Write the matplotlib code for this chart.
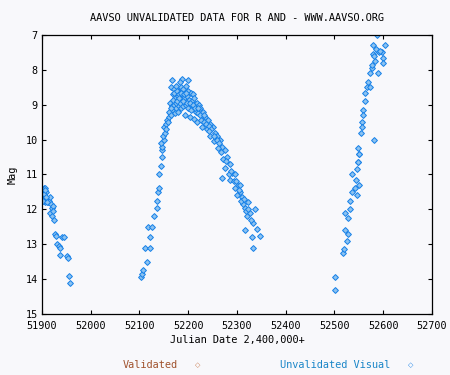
import matplotlib
matplotlib.use('Agg')
import matplotlib.pyplot as plt

## Data (Julian Date - 2,400,000, magnitude)
jd_1 = [51901, 51903, 51904, 51905, 51906, 51907, 51908, 51910, 51912, 51914,
        51916, 51918, 51921, 51923, 51917, 51920, 51924, 51922, 51927, 51929,
        51941, 51946, 51931, 51934, 51937, 51937, 51952, 51954, 51956, 51958,
        51902, 51904, 51906, 51909, 51911]
mag_1 = [11.5, 11.7, 11.4, 11.6, 11.4, 11.8, 11.5, 11.7, 11.8, 11.75,
         11.65, 11.85, 11.95, 11.9, 12.1, 12.2, 12.3, 12.05, 12.7, 12.75,
         12.8, 12.8, 13.0, 13.05, 13.1, 13.3, 13.35, 13.4, 13.9, 14.1,
         11.75, 11.55, 11.45, 11.65, 11.8]

jd_2 = [52103, 52105, 52107, 52115, 52111, 52121, 52121, 52117, 52126, 52130,
        52136, 52136, 52138, 52139, 52140, 52144, 52146, 52146, 52147, 52144,
        52150, 52148, 52150, 52154, 52157, 52160, 52163, 52166, 52152, 52155,
        52167, 52187, 52200, 52183, 52165, 52170, 52175, 52180, 52185, 52190,
        52195, 52200, 52205, 52210, 52168, 52173, 52178, 52183, 52188, 52192,
        52197, 52202, 52207, 52212, 52217, 52222, 52162, 52166, 52170, 52175,
        52180, 52185, 52190, 52195, 52200, 52205, 52210, 52215, 52220, 52225,
        52230, 52160, 52165, 52172, 52178, 52193, 52203, 52212, 52218, 52227,
        52235, 52240, 52245, 52228, 52238, 52250, 52255, 52245, 52260, 52265,
        52252, 52270, 52275, 52262, 52280, 52272, 52285, 52276, 52290, 52283,
        52269, 52296, 52286, 52302, 52296, 52306, 52310, 52316, 52323, 52312,
        52320, 52337, 52333, 52316, 52341, 52331, 52347, 52333, 52300, 52308,
        52318, 52326,
        52171, 52177, 52182, 52186, 52191, 52196, 52174, 52179, 52184, 52189,
        52198, 52204, 52209, 52214, 52219, 52224, 52232, 52237, 52242, 52247,
        52233, 52243, 52253, 52258, 52263, 52268, 52278, 52288, 52293, 52298,
        52304, 52314, 52306, 52322, 52328, 52158, 52164, 52169, 52176, 52181]
mag_2 = [13.95, 13.85, 13.75, 13.5, 13.1, 13.1, 12.8, 12.5, 12.5, 12.2,
         11.95, 11.75, 11.5, 11.4, 11.0, 10.75, 10.5, 10.3, 10.2, 10.1,
         10.0, 9.9, 9.65, 9.55, 9.45, 9.35, 9.25, 9.15, 9.8, 9.7,
         8.3, 8.25, 8.3, 8.35, 8.5, 8.55, 8.45, 8.6, 8.5, 8.55,
         8.45, 8.6, 8.65, 8.7, 8.7, 8.8, 8.75, 8.85, 8.7, 8.8,
         8.75, 8.85, 8.9, 8.8, 8.95, 9.0, 8.95, 9.05, 9.0, 9.1,
         9.0, 9.1, 9.05, 9.0, 9.1, 9.15, 9.05, 9.2, 9.25, 9.1,
         9.2, 9.2, 9.3, 9.25, 9.2, 9.3, 9.35, 9.4, 9.5, 9.45,
         9.35, 9.45, 9.55, 9.65, 9.7, 9.65, 9.8, 9.9, 9.9, 10.0,
         10.05, 10.2, 10.3, 10.25, 10.5, 10.55, 10.7, 10.8, 10.95, 11.0,
         11.1, 11.0, 11.15, 11.3, 11.4, 11.5, 11.65, 11.95, 11.8, 11.85,
         12.2, 12.0, 12.4, 12.6, 12.55, 12.8, 12.75, 13.1, 11.6, 11.75,
         12.05, 12.1,
         8.65, 8.6, 8.7, 8.65, 8.7, 8.65, 8.95, 8.9, 8.95, 8.9,
         8.95, 8.95, 9.0, 9.1, 9.1, 9.3, 9.5, 9.55, 9.6, 9.7,
         9.3, 9.75, 9.9, 10.0, 10.1, 10.35, 10.6, 10.9, 11.2, 11.2,
         11.45, 11.7, 11.3, 12.0, 12.3, 9.5, 9.1, 8.85, 8.9, 8.8]

jd_3 = [52501, 52501, 52517, 52519, 52525, 52528, 52521, 52528, 52521, 52532,
        52532, 52546, 52536, 52542, 52550, 52536, 52544, 52546, 52548, 52550,
        52587, 52579, 52589, 52597, 52599, 52579, 52583, 52604, 52599, 52577,
        52573, 52589, 52569, 52567, 52573, 52563, 52563, 52559, 52559, 52557,
        52557, 52555, 52581, 52548, 52550, 52548,
        52585, 52591, 52594, 52581, 52576]
mag_3 = [14.3, 13.95, 13.25, 13.15, 12.9, 12.7, 12.6, 12.25, 12.1, 12.0,
         11.75, 11.6, 11.5, 11.4, 11.3, 11.0, 11.15, 10.85, 10.65, 10.4,
         7.0, 7.3, 7.45, 7.5, 7.65, 7.55, 7.75, 7.3, 7.8, 7.95,
         8.1, 8.1, 8.35, 8.5, 8.5, 8.65, 8.9, 9.15, 9.3, 9.5,
         9.65, 9.8, 10.0, 10.25, 10.4, 10.65,
         7.4, 7.5, 7.45, 7.6, 7.85]

jd = jd_1 + jd_2 + jd_3
mag = mag_1 + mag_2 + mag_3

x_ticks = [51900, 52000, 52100, 52200, 52300, 52400, 52500, 52600, 52700]
y_ticks = [7, 8, 9, 10, 11, 12, 13, 14, 15]

bg = '#f8f8fb'
blue = '#1580e8'
mono = 'DejaVu Sans Mono'

fig = plt.figure(figsize=(4.5, 3.75), dpi=100, facecolor=bg)
ax = fig.add_axes([0.0933, 0.1627, 0.8667, 0.744])
ax.set_facecolor(bg)

ax.plot(jd, mag, linestyle='none', marker='D', markersize=3.0,
        markerfacecolor='#8cc2f0', markeredgecolor=blue, markeredgewidth=0.7)

ax.set_xlim(51900, 52700)
ax.set_ylim(15, 7)
ax.set_xticks(x_ticks)
ax.set_yticks(y_ticks)
ax.tick_params(direction='in', length=3, width=0.8, top=True, right=True,
               labelsize=7.3)
ax.tick_params(axis='x', pad=5)
ax.tick_params(axis='y', pad=3)
for lab in ax.get_xticklabels() + ax.get_yticklabels():
    lab.set_family(mono)
for s in ax.spines.values():
    s.set_linewidth(0.9)

ax.set_title('AAVSO UNVALIDATED DATA FOR R AND - WWW.AAVSO.ORG',
             fontsize=7.4, family=mono, pad=10)
ax.set_xlabel('Julian Date 2,400,000+', fontsize=7.4, family=mono, labelpad=3)
ax.set_ylabel('Mag', fontsize=7.4, family=mono, labelpad=6)

## legenda embaixo
fig.text(0.333, 0.018, 'Validated', color='#a0522d', fontsize=7.4,
         family=mono, ha='center')
fig.text(0.44, 0.022, '\u25c7', color='#c8784a', fontsize=5, ha='center')
fig.text(0.745, 0.018, 'Unvalidated Visual', color='#1a86c8', fontsize=7.4,
         family=mono, ha='center')
fig.text(0.912, 0.022, '\u25c7', color=blue, fontsize=5, ha='center')

fig.savefig('out.png', dpi=100, facecolor=bg)
